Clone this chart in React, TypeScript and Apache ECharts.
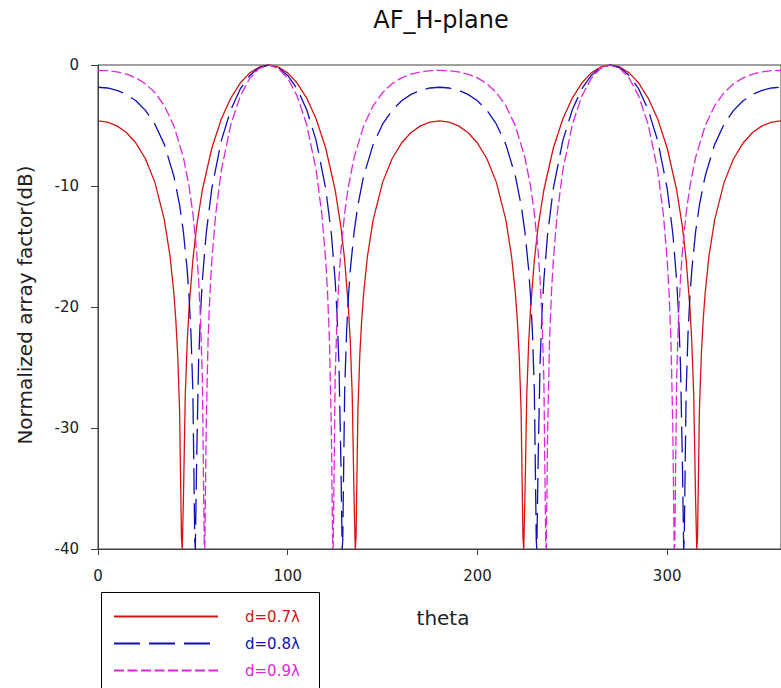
import React, { useEffect, useRef } from "react";
import * as echarts from "echarts";

// theta (deg) , normalized array factor (dB)
const afD07: [number, number][] = [
  [0, -4.62], [5, -4.72], [10, -5.03], [15, -5.58], [20, -6.45], [25, -7.75], [30, -9.7], [35, -12.82], [38, -15.84], [40, -18.9], [41, -21.04], [42, -23.95], [43, -28.52], [44, -39.08], [44.4, -40], [45, -36.04], [46, -27.3], [47, -22.98], [48, -20.08], [50, -16.11], [52, -13.34], [55, -10.33], [60, -6.86], [65, -4.46], [70, -2.73], [75, -1.49], [80, -0.65], [85, -0.16], [90, 0],
  [95, -0.16], [100, -0.65], [105, -1.49], [110, -2.73], [115, -4.46], [120, -6.86], [125, -10.33], [128, -13.34], [130, -16.11], [132, -20.08], [133, -22.98], [134, -27.3], [135, -36.04], [135.6, -40], [136, -39.08], [137, -28.52], [138, -23.95], [139, -21.04], [140, -18.9], [142, -15.84], [145, -12.82], [150, -9.7], [155, -7.75], [160, -6.45], [165, -5.58], [170, -5.03], [175, -4.72], [180, -4.62],
  [185, -4.72], [190, -5.03], [195, -5.58], [200, -6.45], [205, -7.75], [210, -9.7], [215, -12.82], [218, -15.84], [220, -18.9], [221, -21.04], [222, -23.95], [223, -28.52], [224, -39.08], [224.4, -40], [225, -36.04], [226, -27.3], [227, -22.98], [228, -20.08], [230, -16.11], [232, -13.34], [235, -10.33], [240, -6.86], [245, -4.46], [250, -2.73], [255, -1.49], [260, -0.65], [265, -0.16], [270, 0],
  [275, -0.16], [280, -0.65], [285, -1.49], [290, -2.73], [295, -4.46], [300, -6.86], [305, -10.33], [308, -13.34], [310, -16.11], [312, -20.08], [313, -22.98], [314, -27.3], [315, -36.04], [315.6, -40], [316, -39.08], [317, -28.52], [318, -23.95], [319, -21.04], [320, -18.9], [322, -15.84], [325, -12.82], [330, -9.7], [335, -7.75], [340, -6.45], [345, -5.58], [350, -5.03], [355, -4.72], [360, -4.62],
];

const afD08: [number, number][] = [
  [0, -1.84], [5, -1.9], [10, -2.09], [15, -2.43], [20, -2.96], [25, -3.75], [30, -4.89], [35, -6.58], [40, -9.19], [43, -11.57], [45, -13.77], [47, -16.91], [48, -19.12], [49, -22.16], [50, -26.99], [51, -39.29], [51.3, -40], [52, -32.59], [53, -24.7], [54, -20.6], [55, -17.8], [57, -13.95], [60, -10.2], [65, -6.25], [70, -3.7], [75, -1.98], [80, -0.86], [85, -0.21], [90, 0],
  [95, -0.21], [100, -0.86], [105, -1.98], [110, -3.7], [115, -6.25], [120, -10.2], [123, -13.95], [125, -17.8], [126, -20.6], [127, -24.7], [128, -32.59], [128.7, -40], [129, -39.29], [130, -26.99], [131, -22.16], [132, -19.12], [133, -16.91], [135, -13.77], [137, -11.57], [140, -9.19], [145, -6.58], [150, -4.89], [155, -3.75], [160, -2.96], [165, -2.43], [170, -2.09], [175, -1.9], [180, -1.84],
  [185, -1.9], [190, -2.09], [195, -2.43], [200, -2.96], [205, -3.75], [210, -4.89], [215, -6.58], [220, -9.19], [223, -11.57], [225, -13.77], [227, -16.91], [228, -19.12], [229, -22.16], [230, -26.99], [231, -39.29], [231.3, -40], [232, -32.59], [233, -24.7], [234, -20.6], [235, -17.8], [237, -13.95], [240, -10.2], [245, -6.25], [250, -3.7], [255, -1.98], [260, -0.86], [265, -0.21], [270, 0],
  [275, -0.21], [280, -0.86], [285, -1.98], [290, -3.7], [295, -6.25], [300, -10.2], [303, -13.95], [305, -17.8], [306, -20.6], [307, -24.7], [308, -32.59], [308.7, -40], [309, -39.29], [310, -26.99], [311, -22.16], [312, -19.12], [313, -16.91], [315, -13.77], [317, -11.57], [320, -9.19], [325, -6.58], [330, -4.89], [335, -3.75], [340, -2.96], [345, -2.43], [350, -2.09], [355, -1.9], [360, -1.84],
];

const afD09: [number, number][] = [
  [0, -0.44], [5, -0.47], [10, -0.57], [15, -0.75], [20, -1.06], [25, -1.55], [30, -2.28], [35, -3.37], [40, -5.03], [45, -7.63], [48, -10.02], [50, -12.25], [52, -15.44], [53, -17.69], [54, -20.82], [55, -25.86], [56, -39.76], [56.3, -40], [57, -30.21], [58, -22.8], [59, -18.84], [60, -16.11], [62, -12.36], [65, -8.71], [70, -4.92], [75, -2.57], [80, -1.09], [85, -0.27], [90, 0],
  [95, -0.27], [100, -1.09], [105, -2.57], [110, -4.92], [115, -8.71], [118, -12.36], [120, -16.11], [121, -18.84], [122, -22.8], [123, -30.21], [123.7, -40], [124, -39.76], [125, -25.86], [126, -20.82], [127, -17.69], [128, -15.44], [130, -12.25], [132, -10.02], [135, -7.63], [140, -5.03], [145, -3.37], [150, -2.28], [155, -1.55], [160, -1.06], [165, -0.75], [170, -0.57], [175, -0.47], [180, -0.44],
  [185, -0.47], [190, -0.57], [195, -0.75], [200, -1.06], [205, -1.55], [210, -2.28], [215, -3.37], [220, -5.03], [225, -7.63], [228, -10.02], [230, -12.25], [232, -15.44], [233, -17.69], [234, -20.82], [235, -25.86], [236, -39.76], [236.3, -40], [237, -30.21], [238, -22.8], [239, -18.84], [240, -16.11], [242, -12.36], [245, -8.71], [250, -4.92], [255, -2.57], [260, -1.09], [265, -0.27], [270, 0],
  [275, -0.27], [280, -1.09], [285, -2.57], [290, -4.92], [295, -8.71], [298, -12.36], [300, -16.11], [301, -18.84], [302, -22.8], [303, -30.21], [303.7, -40], [304, -39.76], [305, -25.86], [306, -20.82], [307, -17.69], [308, -15.44], [310, -12.25], [312, -10.02], [315, -7.63], [320, -5.03], [325, -3.37], [330, -2.28], [335, -1.55], [340, -1.06], [345, -0.75], [350, -0.57], [355, -0.47], [360, -0.44],
];

const seriesNames = ["d=0.7λ", "d=0.8λ", "d=0.9λ"];
const seriesColors = ["#d41414", "#1010b4", "#dc28dc"];
const seriesDash: (string | number[])[] = ["solid", [26, 9], [10, 3.5]];
const seriesData = [afD07, afD08, afD09];

const FONT = "DejaVu Sans";

export default function App() {
  const ref = useRef<HTMLDivElement>(null);
  useEffect(() => {
    if (!ref.current) return;
    const chart = echarts.init(ref.current, undefined, { renderer: "svg" });
    const axisColor = "#404040";
    chart.setOption({
      animation: false,
      backgroundColor: "#ffffff",
      grid: {
        left: 98,
        top: 65,
        width: 694,
        height: 484,
        show: true,
        borderColor: axisColor,
        borderWidth: 1,
        backgroundColor: "transparent",
      },
      xAxis: {
        type: "value",
        min: 0,
        max: 360,
        interval: 100,
        axisLine: { onZero: false, lineStyle: { color: axisColor, width: 1 } },
        axisTick: { inside: false, length: 6, lineStyle: { color: axisColor } },
        axisLabel: { margin: 19, color: "#222", fontFamily: FONT, fontSize: 15, showMaxLabel: false },
        splitLine: { show: false },
      },
      yAxis: {
        type: "value",
        min: -40,
        max: 0,
        interval: 10,
        axisLine: { show: true, onZero: false, lineStyle: { color: axisColor, width: 1 } },
        axisTick: { show: true, inside: false, length: 7, lineStyle: { color: axisColor } },
        axisLabel: { margin: 19, color: "#222", fontFamily: FONT, fontSize: 15 },
        splitLine: { show: false },
      },
      legend: {
        orient: "vertical",
        left: 113,
        top: 609,
        padding: 0,
        itemWidth: 104,
        itemHeight: 14,
        itemGap: 12,
        itemStyle: { opacity: 0 },
        textStyle: { fontFamily: FONT, fontSize: 15, padding: [0, 0, 0, 22] },
        data: seriesNames.map((n, i) => ({ name: n, textStyle: { color: seriesColors[i] } })),
      },
      graphic: [
        {
          type: "rect",
          left: 99,
          top: 590,
          shape: { width: 218, height: 120 },
          style: { fill: "none", stroke: "#000", lineWidth: 1 },
          z: 1,
        },
        {
          type: "text",
          x: 441,
          y: 20,
          style: {
            text: "AF_H-plane",
            font: `24px '${FONT}'`,
            fill: "#111",
            textAlign: "center",
            textVerticalAlign: "middle",
          },
        },
        {
          type: "text",
          x: 443,
          y: 618,
          style: {
            text: "theta",
            font: `20px '${FONT}'`,
            fill: "#222",
            textAlign: "center",
            textVerticalAlign: "middle",
          },
        },
        {
          type: "text",
          x: 25,
          y: 305,
          rotation: Math.PI / 2,
          style: {
            text: "Normalized array factor(dB)",
            font: `20px '${FONT}'`,
            fill: "#222",
            textAlign: "center",
            textVerticalAlign: "middle",
          },
        },
      ],
      series: seriesData.map((d, i) => ({
        name: seriesNames[i],
        type: "line",
        data: d,
        symbol: "none",
        showSymbol: false,
        clip: true,
        smooth: false,
        lineStyle: { color: seriesColors[i], width: 1.3, type: seriesDash[i] },
        itemStyle: { color: seriesColors[i] },
        z: 2 + i,
      })),
    });
    return () => chart.dispose();
  }, []);
  return (
    <div
      ref={ref}
      style={{ position: "absolute", left: 0, top: 0, width: 781, height: 688 }}
    />
  );
}
